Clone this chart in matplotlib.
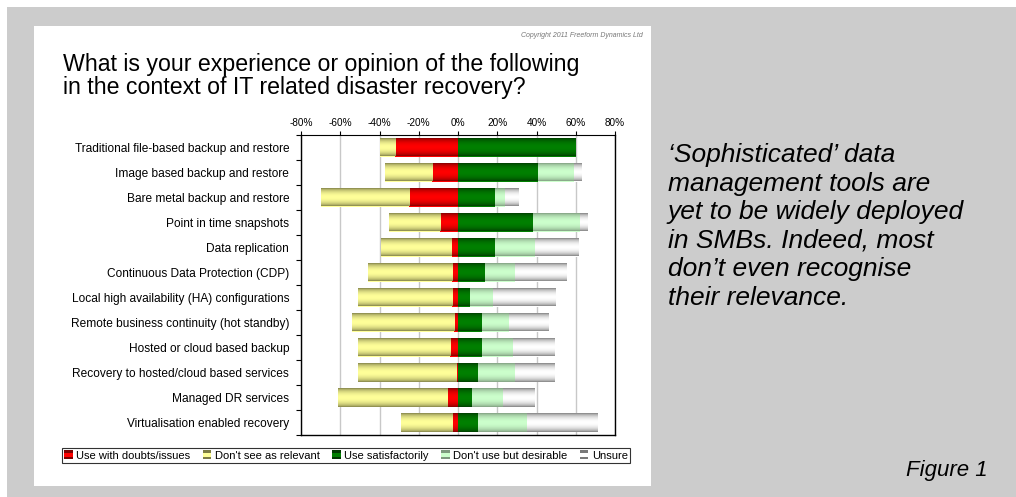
import numpy as np
import matplotlib
matplotlib.use("Agg")
import matplotlib.pyplot as plt
from matplotlib.patches import Rectangle
from matplotlib.colors import to_rgb
from matplotlib.legend_handler import HandlerBase

plt.rcParams['font.family'] = ['Liberation Sans', 'DejaVu Sans']

categories = [
    "Traditional file-based backup and restore",
    "Image based backup and restore",
    "Bare metal backup and restore",
    "Point in time snapshots",
    "Data replication",
    "Continuous Data Protection (CDP)",
    "Local high availability (HA) configurations",
    "Remote business continuity (hot standby)",
    "Hosted or cloud based backup",
    "Recovery to hosted/cloud based services",
    "Managed DR services",
    "Virtualisation enabled recovery",
]

# Percent of respondents (negative side: doubts, not relevant; positive side: the rest)
use_with_doubts = [32, 13, 25, 9, 3, 3, 3, 2, 4, 1, 5, 3]
not_relevant = [8, 24, 45, 26, 36, 43, 48, 52, 47, 50, 56, 26]
use_satisfactorily = [60, 41, 19, 38, 19, 14, 6, 12, 12, 10, 7, 10]
desirable = [0, 18, 5, 24, 20, 15, 12, 14, 16, 19, 16, 25]
unsure = [0, 4, 7, 4, 22, 26, 32, 20, 21, 20, 16, 36]

series_names = ["Use with doubts/issues", "Don't see as relevant", "Use satisfactorily",
                "Don't use but desirable", "Unsure"]
x_ticks = [-80, -60, -40, -20, 0, 20, 40, 60, 80]

# (edge colour, centre colour) for the shaded bar fill
shades = {
    "Use with doubts/issues": ("#7a0000", "#ff0000"),
    "Don't see as relevant": ("#7d7d45", "#ffff99"),
    "Use satisfactorily": ("#003a00", "#008000"),
    "Don't use but desirable": ("#7d9a7d", "#ccffcc"),
    "Unsure": ("#7a7a7a", "#ffffff"),
}

W, H = 1016, 497
fig = plt.figure(figsize=(W / 100, H / 100), dpi=100)
fig.patch.set_facecolor("#cccccc")


def fx(px):
    return px / W


def fy(py):
    return 1 - py / H


# thin white margins and the white chart panel
for rect in [((0, fy(7)), 1, 7 / H), ((0, 0), fx(7), 1),
             ((fx(34), fy(486)), fx(651 - 34), (486 - 26) / H)]:
    fig.patches.append(Rectangle(*rect, transform=fig.transFigure,
                                 facecolor="white", edgecolor="none", zorder=-5))

ax = fig.add_axes([fx(301), fy(435), fx(615 - 301), (435 - 135) / H])
ax.set_zorder(1)

y = np.arange(len(categories))
bar_h = 0.72

red = np.array(use_with_doubts, float)
yel = np.array(not_relevant, float)
grn = np.array(use_satisfactorily, float)
lgr = np.array(desirable, float)
gry = np.array(unsure, float)

containers = [
    ax.barh(y, -red, left=0, height=bar_h, color=shades[series_names[0]][1], label=series_names[0]),
    ax.barh(y, -yel, left=-red, height=bar_h, color=shades[series_names[1]][1], label=series_names[1]),
    ax.barh(y, grn, left=0, height=bar_h, color=shades[series_names[2]][1], label=series_names[2]),
    ax.barh(y, lgr, left=grn, height=bar_h, color=shades[series_names[3]][1], label=series_names[3]),
    ax.barh(y, gry, left=grn + lgr, height=bar_h, color=shades[series_names[4]][1], label=series_names[4]),
]

# cylinder-like vertical shading on each bar
t = np.linspace(0, 1, 64)
prof = np.sin(np.pi * t) ** 0.6
for name, cont in zip(series_names, containers):
    edge, centre = (np.array(to_rgb(c)) for c in shades[name])
    img = (edge[None, :] + (centre - edge)[None, :] * prof[:, None])[:, None, :]
    for p in cont.patches:
        x0, x1 = sorted([p.get_x(), p.get_x() + p.get_width()])
        if x1 - x0 <= 0:
            continue
        y0, y1 = p.get_y(), p.get_y() + p.get_height()
        ax.imshow(img, extent=(x0, x1, y1, y0), aspect="auto",
                  interpolation="bilinear", zorder=2)

ax.set_aspect("auto")
ax.set_xlim(-80, 80)
ax.set_ylim(len(categories) - 0.5, -0.5)

ax.xaxis.tick_top()
ax.set_xticks(x_ticks)
ax.set_xticklabels([f"{v}%" for v in x_ticks], fontsize=7.2)
ax.tick_params(axis="x", which="major", length=3, width=0.8, pad=2)
ax.grid(axis="x", color="#c8c8c8", linewidth=1.0, zorder=0)
ax.set_axisbelow(True)

ax.set_yticks(y)
ax.set_yticklabels(categories, fontsize=8.6)
ax.set_yticks(np.arange(-0.5, len(categories)), minor=True)
ax.tick_params(axis="y", which="major", length=0, pad=8.5)
ax.tick_params(axis="y", which="minor", length=3.5, width=0.8)

for s in ax.spines.values():
    s.set_color("black")
    s.set_linewidth(1.0)
ax.spines["top"].set_linewidth(0.8)


class ShadedKey(HandlerBase):
    """Legend key drawn as a small square with darker top and bottom bands."""

    def create_artists(self, legend, orig_handle, xdescent, ydescent,
                       width, height, fontsize, trans):
        edge, centre = shades[orig_handle.get_label()]
        side = min(width, height)
        x0 = -xdescent + (width - side) / 2
        y0 = -ydescent + (height - side) / 2
        outer = Rectangle((x0, y0), side, side, facecolor=edge,
                          edgecolor="none", transform=trans)
        inner = Rectangle((x0, y0 + side * 0.25), side, side * 0.5,
                          facecolor=centre, edgecolor="none", transform=trans)
        return [outer, inner]


key_handles = [Rectangle((0, 0), 1, 1, label=n) for n in series_names]
leg = fig.legend(handles=key_handles, labels=series_names, loc="center",
                 bbox_to_anchor=(fx(346), fy(455.5)), ncol=5, fontsize=8,
                 frameon=True, fancybox=False, edgecolor="black",
                 handlelength=0.8, handleheight=0.8, handletextpad=0.3,
                 columnspacing=1.1, borderpad=0.2, borderaxespad=0,
                 handler_map={Rectangle: ShadedKey()})
leg.get_frame().set_linewidth(0.8)

fig.text(fx(63), fy(71), "What is your experience or opinion of the following",
         fontsize=16.7, va="baseline", ha="left")
fig.text(fx(63), fy(94), "in the context of IT related disaster recovery?",
         fontsize=16.7, va="baseline", ha="left")
fig.text(fx(643), fy(37), "Copyright 2011 Freeform Dynamics Ltd", fontsize=5,
         style="italic", color="#777777", va="baseline", ha="right")

side_lines = ["\u2018Sophisticated\u2019 data", "management tools are",
              "yet to be widely deployed", "in SMBs. Indeed, most",
              "don\u2019t even recognise", "their relevance."]
for i, line in enumerate(side_lines):
    fig.text(fx(668), fy(162 + 28.6 * i), line, fontsize=19, style="italic",
             va="baseline", ha="left")

fig.text(fx(906), fy(476), "Figure 1", fontsize=16, style="italic",
         va="baseline", ha="left")

fig.savefig("out.png", dpi=100, facecolor=fig.get_facecolor())
